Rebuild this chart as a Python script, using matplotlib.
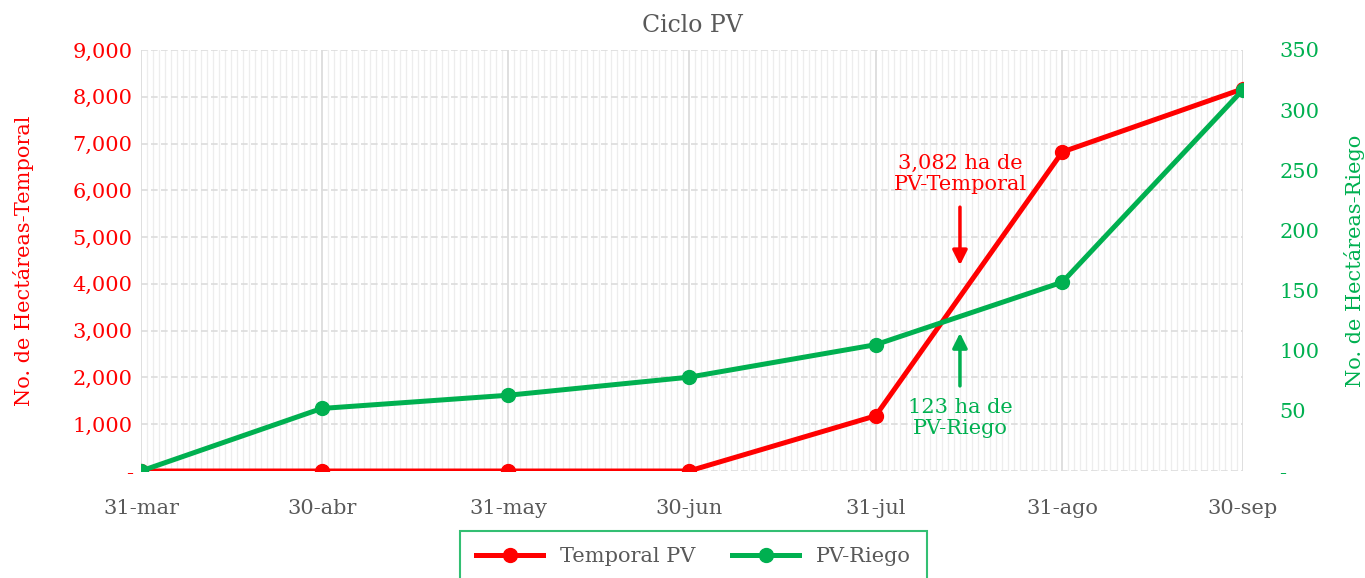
import pandas as pd
import matplotlib.pyplot as plt
import matplotlib.dates as mdates
from matplotlib.ticker import FuncFormatter, MultipleLocator

plt.rcParams['font.family'] = ['DejaVu Serif']

# datos del ciclo PV (acumulado)
fechas = pd.to_datetime(['2023-03-31', '2023-04-30', '2023-05-31', '2023-06-30',
                         '2023-07-31', '2023-08-31', '2023-09-30'])
etiquetas = ['31-mar', '30-abr', '31-may', '30-jun', '31-jul', '31-ago', '30-sep']
temporal = [0, 0, 0, 0, 1180, 6820, 8170]
riego = [0, 52, 63, 78, 105, 157, 317]

ROJO = '#FF0000'
VERDE = '#00B050'
GRIS = '#595959'

fig = plt.figure(figsize=(13.65, 5.78), dpi=100)
ax = fig.add_axes([0.1033, 0.1851, 0.8073, 0.7284])
ax2 = ax.twinx()

l1, = ax.plot(fechas, temporal, color=ROJO, lw=3.6, marker='o', ms=10, label='Temporal PV', zorder=3)
l2, = ax2.plot(fechas, riego, color=VERDE, lw=3.6, marker='o', ms=10, label='PV-Riego', zorder=3)

ax.set_xlim(fechas[0], fechas[-1])
ax.set_ylim(0, 9000)
ax2.set_ylim(0, 350)

ax.set_xticks(fechas)
ax.set_xticklabels(etiquetas)
ax.xaxis.set_minor_locator(mdates.DayLocator())
ax.yaxis.set_major_locator(MultipleLocator(1000))
ax2.yaxis.set_major_locator(MultipleLocator(50))

ax.yaxis.set_major_formatter(FuncFormatter(lambda v, p: '-' if v == 0 else f'{v:,.0f}'))
ax2.yaxis.set_major_formatter(FuncFormatter(lambda v, p: '-' if v == 0 else f'{v:,.0f}'))

# cuadrícula estilo Excel
ax.grid(which='minor', axis='x', color='#ededed', lw=0.9)
ax.grid(which='major', axis='x', color='#d9d9d9', lw=1.2)
ax.grid(which='major', axis='y', color='#dcdcdc', lw=1.2, ls=(0, (4, 2)))
ax.set_axisbelow(True)

for a in (ax, ax2):
    for s in a.spines.values():
        s.set_visible(False)

ax.tick_params(axis='x', which='both', length=0, pad=20, labelsize=15, labelcolor=GRIS)
ax.tick_params(axis='y', length=0, pad=6, labelsize=15, labelcolor=ROJO)
ax2.tick_params(axis='y', length=0, pad=26, labelsize=15, labelcolor=VERDE)

ax.set_ylabel('No. de Hectáreas-Temporal', color=ROJO, fontsize=15, labelpad=28)
ax2.set_ylabel('No. de Hectáreas-Riego', color=VERDE, fontsize=15, labelpad=18)
ax.set_title('Ciclo PV', color=GRIS, fontsize=17, pad=13)

# anotaciones
fecha_flecha = pd.Timestamp('2023-08-14')
ax.annotate('', xy=(fecha_flecha, 4340), xytext=(fecha_flecha, 5700),
            arrowprops=dict(arrowstyle='-|>', color=ROJO, lw=2.5, mutation_scale=22))
ax.text(fecha_flecha, 6350, '3,082 ha de\nPV-Temporal', color=ROJO, fontsize=15,
        ha='center', va='center', linespacing=1.15)
ax.annotate('', xy=(fecha_flecha, 3010), xytext=(fecha_flecha, 1760),
            arrowprops=dict(arrowstyle='-|>', color=VERDE, lw=2.5, mutation_scale=22))
ax.text(fecha_flecha, 1130, '123 ha de\nPV-Riego', color=VERDE, fontsize=15,
        ha='center', va='center', linespacing=1.15)

leg = fig.legend(handles=[l1, l2], loc='upper center', bbox_to_anchor=(0.508, 0.082),
                 ncol=2, frameon=True, fancybox=False, fontsize=15, handlelength=3.2,
                 columnspacing=1.8, borderpad=0.8, borderaxespad=0)
leg.get_frame().set_edgecolor(VERDE)
leg.get_frame().set_linewidth(1.5)
for t in leg.get_texts():
    t.set_color(GRIS)

fig.savefig('out.png', dpi=100)
